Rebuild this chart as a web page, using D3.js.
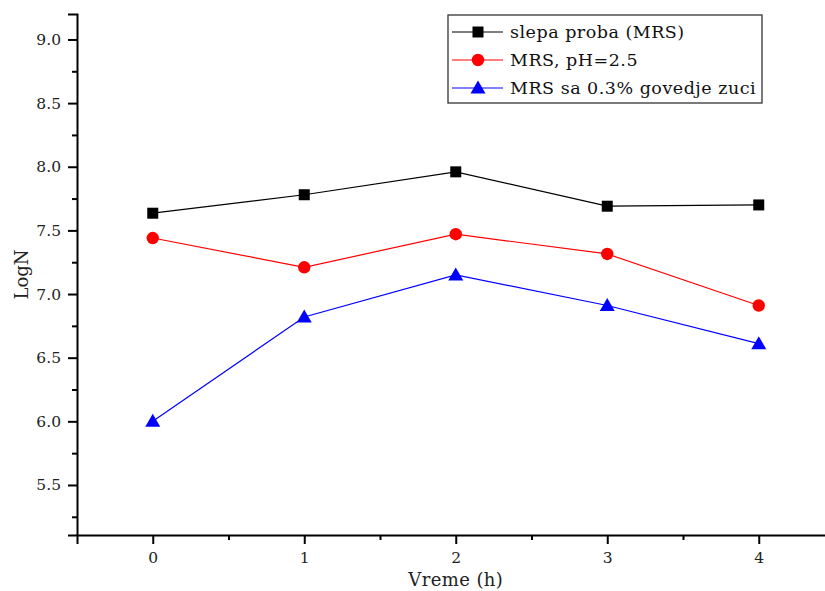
<!DOCTYPE html>
<html><head><meta charset="utf-8">
<script src="https://cdn.jsdelivr.net/npm/d3@7"></script>
<style>body{margin:0;background:#fff}svg{display:block}</style>
</head><body>
<script>
const times = [0, 1, 2, 3, 4];
const blank = [7.635, 7.78, 7.96, 7.69, 7.70];
const ph25 = [7.44, 7.21, 7.47, 7.315, 6.91];
const bile = [6.0, 6.82, 7.15, 6.91, 6.61];
const seriesNames = ["slepa proba (MRS)", "MRS, pH=2.5", "MRS sa 0.3% govedje zuci"];
const colors = ["#000000", "#ff0000", "#0000ff"];
const shapes = ["square", "circle", "triangle"];
const yTicks = [5.5, 6.0, 6.5, 7.0, 7.5, 8.0, 8.5, 9.0];
const xTicks = [0, 1, 2, 3, 4];

const W = 825, H = 591;
const font = "'DejaVu Serif', serif";
const svg = d3.select("body").append("svg").attr("width", W).attr("height", H);

const x = d3.scaleLinear().domain([-0.5, 4.5]).range([77, 834.5]);
const y = d3.scaleLinear().domain([5.107, 9.2]).range([535, 14]);

const yAxis = d3.axisLeft(y).tickValues(yTicks).tickFormat(d3.format(".1f")).tickSize(9).tickPadding(7);
const yMinor = d3.axisLeft(y).tickValues(d3.range(5.25, 9.2, 0.5)).tickFormat("").tickSize(5);
const xAxis = d3.axisBottom(x).tickValues(xTicks).tickFormat(d3.format("d")).tickSize(9).tickPadding(8);
const xMinor = d3.axisBottom(x).tickValues([0.5, 1.5, 2.5, 3.5]).tickFormat("").tickSize(5);

function styleAxis(g){
  g.attr("font-family", font).attr("font-size", 15.5);
  g.select(".domain").attr("stroke","#000").attr("stroke-width",2);
  g.selectAll(".tick line").attr("stroke","#000").attr("stroke-width",2);
  g.selectAll("text").attr("font-family",font).attr("font-size",15.5).attr("fill","#222");
}
svg.append("g").attr("transform",`translate(77,0)`).call(yAxis).call(styleAxis);
svg.append("g").attr("transform",`translate(77,0)`).call(yMinor).call(styleAxis).select(".domain").remove();
svg.append("g").attr("transform",`translate(0,535)`).call(xAxis).call(styleAxis);
svg.append("g").attr("transform",`translate(0,535)`).call(xMinor).call(styleAxis).select(".domain").remove();

// axis titles
svg.append("text").attr("x", x(2)).attr("y", 586).attr("text-anchor","middle")
  .attr("font-family",font).attr("font-size",18).attr("letter-spacing",0.4).attr("fill","#222").text("Vreme (h)");
svg.append("text").attr("transform",`translate(28,${(14+535)/2}) rotate(-90)`).attr("text-anchor","middle")
  .attr("font-family",font).attr("font-size",18).attr("fill","#222").text("LogN");

const allSeries = [blank, ph25, bile];
const line = d3.line().x((d,i)=>x(times[i])).y(d=>y(d));

function drawMarker(g, shape, cx, cy, color){
  if(shape==="square") g.append("rect").attr("x",cx-5.5).attr("y",cy-5.5).attr("width",11).attr("height",11).attr("fill",color);
  else if(shape==="circle") g.append("circle").attr("cx",cx).attr("cy",cy).attr("r",6.2).attr("fill",color);
  else g.append("path").attr("d",`M${cx},${cy-7.5}L${cx+7.5},${cy+5.5}L${cx-7.5},${cy+5.5}Z`).attr("fill",color);
}

allSeries.forEach((vals, k)=>{
  svg.append("path").datum(vals).attr("d", line).attr("fill","none").attr("stroke",colors[k]).attr("stroke-width",1.2);
  const g = svg.append("g");
  vals.forEach((v,i)=>drawMarker(g, shapes[k], x(times[i]), y(v), colors[k]));
});

// legend
const lg = svg.append("g");
lg.append("rect").attr("x",448).attr("y",15).attr("width",314).attr("height",88)
  .attr("fill","#fff").attr("stroke","#333").attr("stroke-width",1.3);
seriesNames.forEach((name,k)=>{
  const cy = 32 + k*28;
  lg.append("line").attr("x1",452).attr("x2",503).attr("y1",cy).attr("y2",cy).attr("stroke",colors[k]).attr("stroke-width",1.2);
  drawMarker(lg, shapes[k], 478, cy, colors[k]);
  lg.append("text").attr("x",510).attr("y",cy+6).attr("font-family",font).attr("font-size",17.5)
    .attr("letter-spacing",0.5).attr("fill","#111").text(name);
});
</script>
</body></html>
